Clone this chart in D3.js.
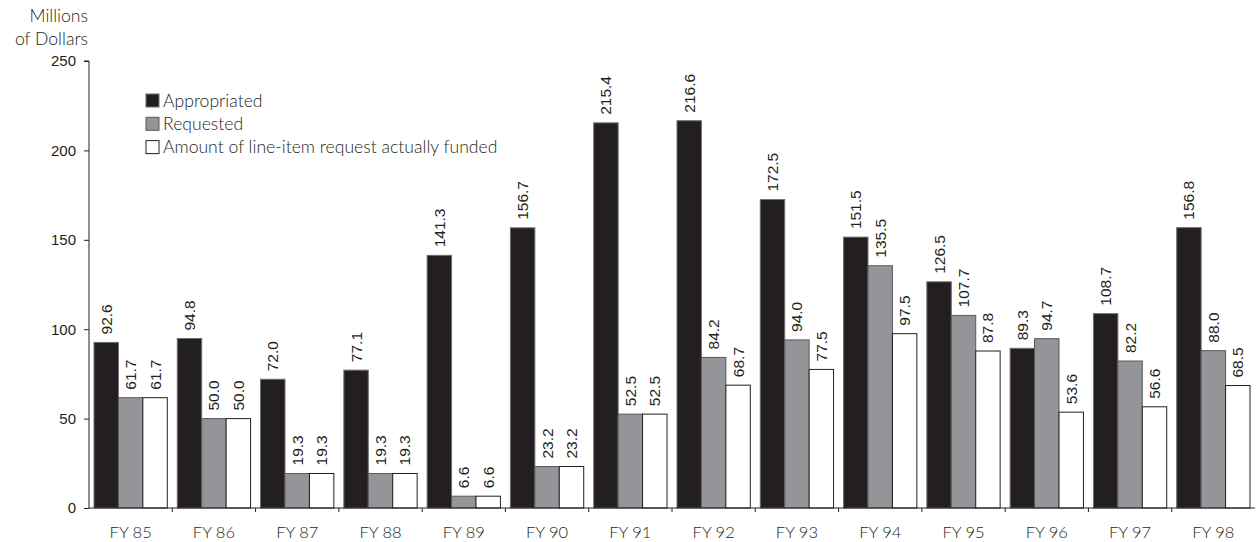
<!DOCTYPE html>
<html>
<head>
<meta charset="utf-8">
<script src="https://cdn.jsdelivr.net/npm/d3@7"></script>
<style>
  body { margin: 0; background: #fff; }
  svg { display: block; }
  .num { font-family: "Liberation Sans", Arial, sans-serif; font-size: 15.5px; fill: #231f20; }
  .tick text { font-family: "Liberation Sans", Arial, sans-serif; font-size: 15px; fill: #231f20; }
  .lbl { font-family: Lato, "Open Sans", sans-serif; font-weight: 300; font-size: 17.6px; fill: #231f20; }
</style>
</head>
<body>
<svg></svg>
<script>
let years = ['FY 85', 'FY 86', 'FY 87', 'FY 88', 'FY 89', 'FY 90', 'FY 91', 'FY 92', 'FY 93', 'FY 94', 'FY 95', 'FY 96', 'FY 97', 'FY 98']
let appropriated = [92.6, 94.8, 72.0, 77.1, 141.3, 156.7, 215.4, 216.6, 172.5, 151.5, 126.5, 89.3, 108.7, 156.8]
let requested = [61.7, 50.0, 19.3, 19.3, 6.6, 23.2, 52.5, 84.2, 94.0, 135.5, 107.7, 94.7, 82.2, 88.0]
let funded = [61.7, 50.0, 19.3, 19.3, 6.6, 23.2, 52.5, 68.7, 77.5, 97.5, 87.8, 53.6, 56.6, 68.5]
let seriesNames = ['Appropriated', 'Requested', 'Amount of line-item request actually funded']
let yTicks = [0, 50, 100, 150, 200, 250]

let width = 1256
let height = 542
let padLeft = 89
let padRight = 1255
let baseY = 508
let topY = 61

let colors = ['#231f20', '#939598', '#ffffff']
let strokes = ['#6d6e71', '#58595b', '#231f20']
let seriesData = [appropriated, requested, funded]

let svg = d3.select('svg')
    .attr('width', width)
    .attr('height', height)

let xScale = d3.scaleBand()
    .domain(years)
    .range([padLeft, padRight])
    .paddingInner(0.12)
    .paddingOuter(0.06)

let x1 = d3.scaleBand()
    .domain([0, 1, 2])
    .range([0, xScale.bandwidth()])

let yScale = d3.scaleLinear()
    .domain([0, 250])
    .range([baseY, topY])

// bars
seriesData.forEach((values, s) => {
    svg.append('g')
        .selectAll('rect')
        .data(values)
        .enter()
        .append('rect')
        .attr('x', (d, i) => xScale(years[i]) + x1(s))
        .attr('y', d => yScale(d))
        .attr('width', x1.bandwidth())
        .attr('height', d => baseY - yScale(d))
        .attr('fill', colors[s])
        .attr('stroke', strokes[s])
        .attr('stroke-width', 1)

    svg.append('g')
        .selectAll('text')
        .data(values)
        .enter()
        .append('text')
        .attr('class', 'num')
        .attr('transform', (d, i) => {
            let cx = xScale(years[i]) + x1(s) + x1.bandwidth() / 2 + 5.5
            let cy = yScale(d) - 8
            return 'translate(' + cx + ',' + cy + ') rotate(-90)'
        })
        .text(d => d.toFixed(1))
})

// y axis
let yAxis = d3.axisLeft(yScale)
    .tickValues(yTicks)
    .tickSize(5)
    .tickPadding(8)
let gy = svg.append('g')
    .attr('transform', 'translate(' + padLeft + ',0)')
    .call(yAxis)
gy.select('.domain').attr('stroke', '#231f20').attr('d', 'M-5,' + topY + 'H0V' + baseY)
gy.selectAll('.tick line').attr('stroke', '#231f20')

// x axis line with ticks between groups
let step = xScale.step()
let gx = svg.append('g')
gx.append('line')
    .attr('x1', padLeft).attr('x2', padRight)
    .attr('y1', baseY).attr('y2', baseY)
    .attr('stroke', '#231f20')
gx.selectAll('line.sep')
    .data(years.slice(1))
    .enter()
    .append('line')
    .attr('class', 'sep')
    .attr('x1', d => xScale(d) - step * 0.06)
    .attr('x2', d => xScale(d) - step * 0.06)
    .attr('y1', baseY)
    .attr('y2', baseY + 4)
    .attr('stroke', '#231f20')
gx.selectAll('text')
    .data(years)
    .enter()
    .append('text')
    .attr('class', 'lbl')
    .attr('text-anchor', 'middle')
    .attr('x', d => xScale(d) + xScale.bandwidth() / 2)
    .attr('y', 538)
    .style('font-size', '16.5px')
    .text(d => d)

// axis title
svg.append('text').attr('class', 'lbl').attr('text-anchor', 'end')
    .attr('x', 88).attr('y', 22).text('Millions')
svg.append('text').attr('class', 'lbl').attr('text-anchor', 'end')
    .attr('x', 88).attr('y', 45).text('of Dollars')

// legend
let legend = svg.append('g')
    .selectAll('g')
    .data(seriesNames)
    .enter()
    .append('g')
    .attr('transform', (d, i) => 'translate(146,' + (94 + i * 23.3) + ')')
legend.append('rect')
    .attr('width', 13).attr('height', 13)
    .attr('fill', (d, i) => colors[i])
    .attr('stroke', (d, i) => strokes[i])
legend.append('text')
    .attr('class', 'lbl')
    .attr('x', 17)
    .attr('y', 12.5)
    .text(d => d)
</script>
</body>
</html>
